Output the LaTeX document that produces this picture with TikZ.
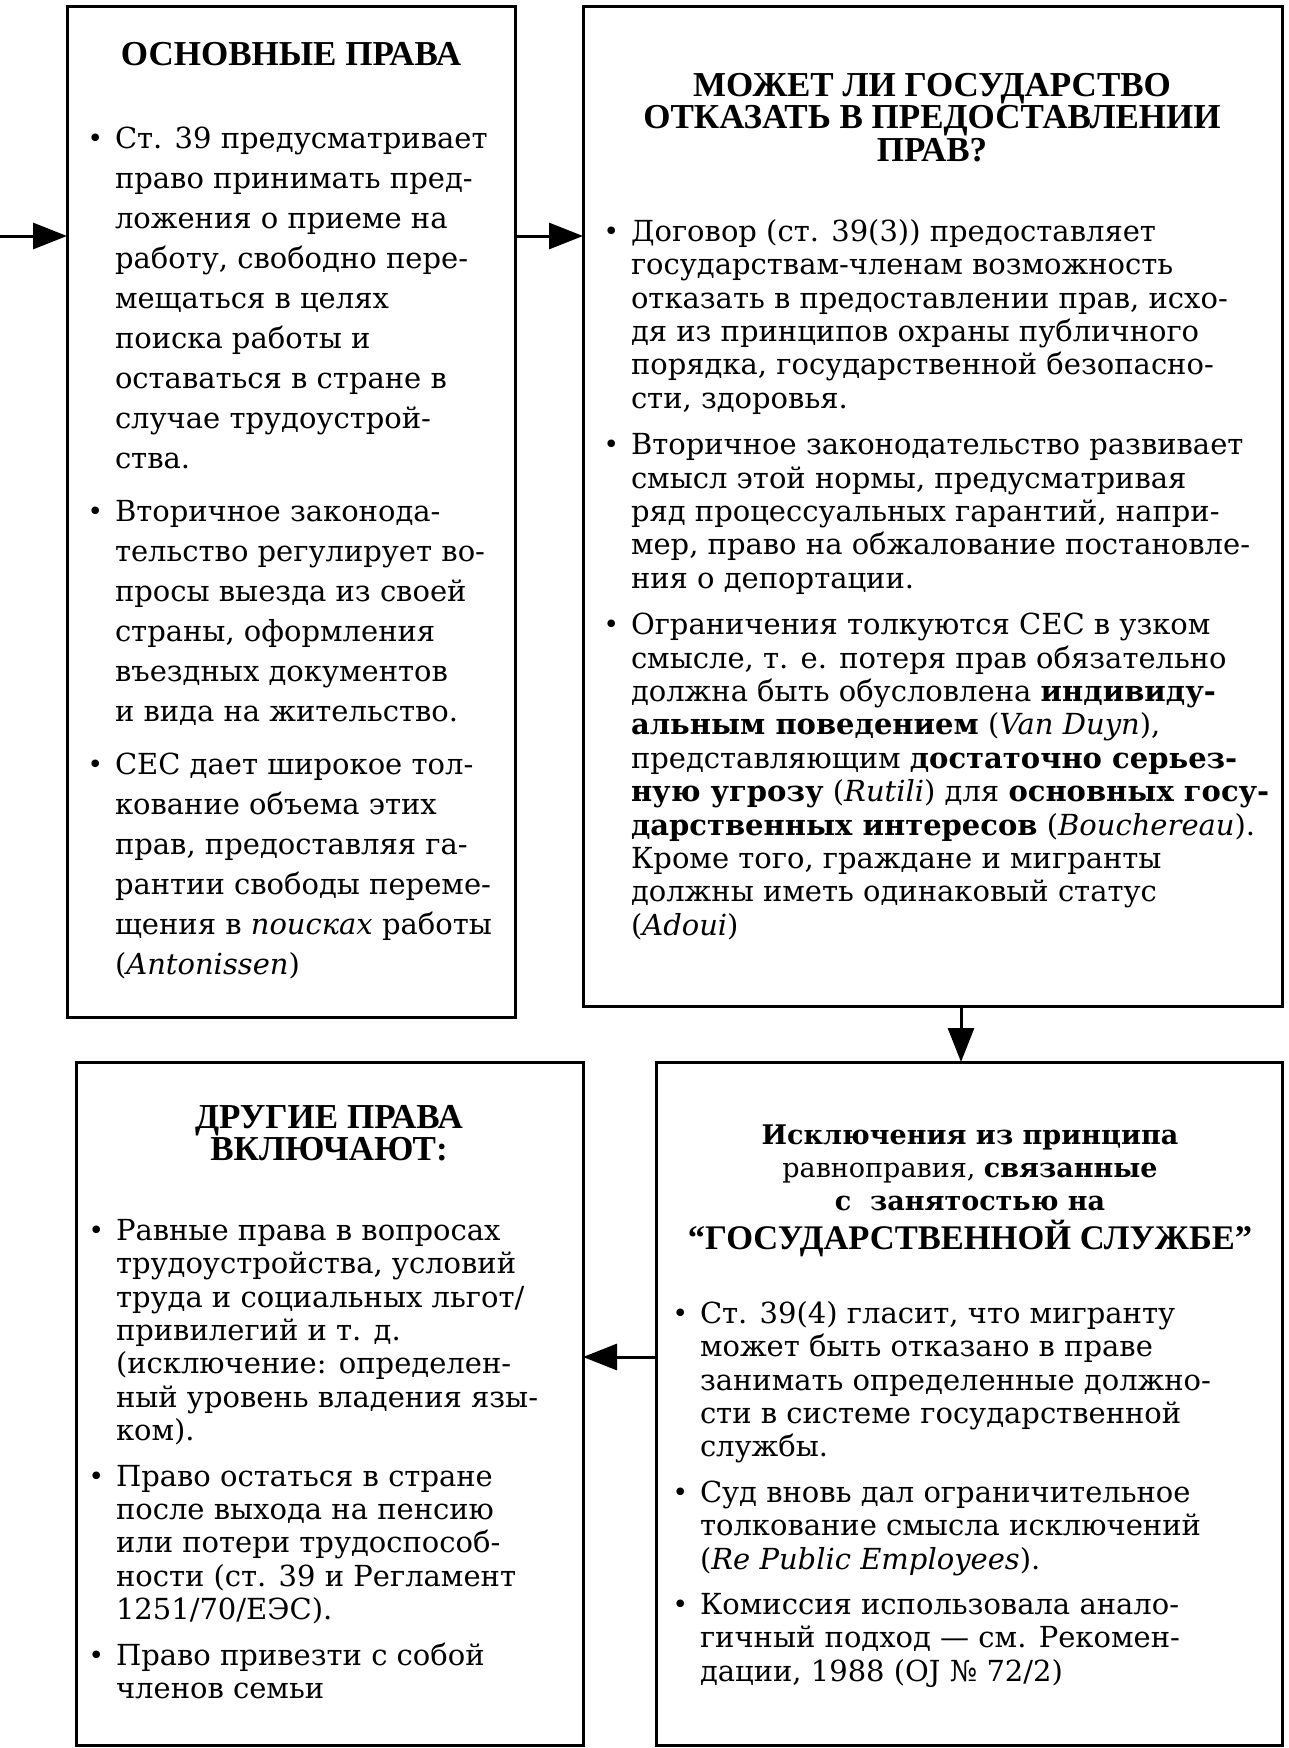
\documentclass[tikz,border=0pt]{standalone}
\usepackage{fontspec}
\setmainfont{DejaVu Serif}
\newfontfamily\ttlfont{Liberation Serif}
\usetikzlibrary{arrows.meta}
\newcommand\fntA{\fontsize{29}{40}\selectfont}
\newcommand\fntB{\fontsize{29}{33.4}\selectfont}
\newcommand\mybul{\llap{\raisebox{1pt}{\scalebox{0.9}{•}}\hspace{12pt}}}
\begin{document}
\begin{tikzpicture}[x=1pt,y=-1pt,
  box/.style={draw, line width=3pt, inner sep=0pt, outer sep=0pt, anchor=north west},
  txt/.style={inner sep=0pt, outer sep=0pt},
  ttl/.style={txt, font=\ttlfont\bfseries\fontsize{35}{32}\selectfont},
  arr/.style={line width=3pt, -{Triangle[length=34pt,width=26pt]}}]
\fill[white] (0,0) rectangle (1288,1748);
\useasboundingbox (0,0) rectangle (1288,1748);

% boxes
\node[box, minimum width=448pt, minimum height=1011pt] (b1) at (67,6) {};
\node[box, minimum width=699pt, minimum height=1000pt] (b2) at (583,6) {};
\node[box, minimum width=507pt, minimum height=683pt] (b3) at (76,1062) {};
\node[box, minimum width=626pt, minimum height=683pt] (b4) at (656,1062) {};

% titles
\node[ttl, anchor=base] (h1) at (291,65) {ОСНОВНЫЕ ПРАВА};
\node[ttl, anchor=north] (h2) at (932,73) {\begin{tabular}{@{}c@{}}МОЖЕТ ЛИ ГОСУДАРСТВО\\ОТКАЗАТЬ В ПРЕДОСТАВЛЕНИИ\\ПРАВ?\end{tabular}};
\node[ttl, anchor=north] (h3) at (329,1105) {\begin{tabular}{@{}c@{}}ДРУГИЕ ПРАВА\\ВКЛЮЧАЮТ:\end{tabular}};
\node[txt, anchor=north] (h4) at (970,1121) {\fontsize{27}{33}\selectfont\begin{tabular}{@{}c@{}}\textbf{Исключения из принципа}\\равноправия, \textbf{связанные}\\\textbf{с\ \ занятостью на}\\{\ttlfont\bfseries\fontsize{34.5}{33}\selectfont “ГОСУДАРСТВЕННОЙ СЛУЖБЕ”}\end{tabular}};

% bodies
\node[txt, anchor=north west] (t1) at (115,120) {\fntA\begin{tabular}{@{}l@{}}
\mybul Ст. 39 предусматривает\\
право принимать пред-\\
ложения о приеме на\\
работу, свободно пере-\\
мещаться в целях\\
поиска работы и\\
оставаться в стране в\\
случае трудоустрой-\\
ства.\\[13pt]
\mybul Вторичное законода-\\
тельство регулирует во-\\
просы выезда из своей\\
страны, оформления\\
въездных документов\\
и вида на жительство.\\[13pt]
\mybul СЕС дает широкое тол-\\
кование объема этих\\
прав, предоставляя га-\\
рантии свободы переме-\\
щения в \textit{поисках} работы\\
(\textit{Antonissen})
\end{tabular}};

\node[txt, anchor=north west] (t2) at (631,218) {\fntB\begin{tabular}{@{}l@{}}
\mybul Договор (ст. 39(3)) предоставляет\\
государствам-членам возможность\\
отказать в предоставлении прав, исхо-\\
дя из принципов охраны публичного\\
порядка, государственной безопасно-\\
сти, здоровья.\\[13pt]
\mybul Вторичное законодательство развивает\\
смысл этой нормы, предусматривая\\
ряд процессуальных гарантий, напри-\\
мер, право на обжалование постановле-\\
ния о депортации.\\[13pt]
\mybul Ограничения толкуются СЕС в узком\\
смысле, т. е. потеря прав обязательно\\
должна быть обусловлена \textbf{индивиду-}\\
\textbf{альным поведением} (\textit{Van Duyn}),\\
представляющим \textbf{достаточно серьез-}\\
\textbf{ную угрозу} (\textit{Rutili}) для \textbf{основных госу-}\\
\textbf{дарственных интересов} (\textit{Bouchereau}).\\
Кроме того, граждане и мигранты\\
должны иметь одинаковый статус\\
(\textit{Adoui})
\end{tabular}};

\node[txt, anchor=north west] (t3) at (116,1217) {\fntB\begin{tabular}{@{}l@{}}
\mybul Равные права в вопросах\\
трудоустройства, условий\\
труда и социальных льгот/\\
привилегий и т. д.\\
(исключение: определен-\\
ный уровень владения язы-\\
ком).\\[12pt]
\mybul Право остаться в стране\\
после выхода на пенсию\\
или потери трудоспособ-\\
ности (ст. 39 и Регламент\\
1251/70/ЕЭС).\\[12pt]
\mybul Право привезти с собой\\
членов семьи
\end{tabular}};

\node[txt, anchor=north west] (t4) at (700,1300) {\fntB\begin{tabular}{@{}l@{}}
\mybul Ст. 39(4) гласит, что мигранту\\
может быть отказано в праве\\
занимать определенные должно-\\
сти в системе государственной\\
службы.\\[12pt]
\mybul Суд вновь дал ограничительное\\
толкование смысла исключений\\
(\textit{Re Public Employees}).\\[12pt]
\mybul Комиссия использовала анало-\\
гичный подход — см. Рекомен-\\
дации, 1988 (OJ № 72/2)
\end{tabular}};

% connectors
\coordinate (src) at (0,236);
\coordinate (dn) at (961,0);
\coordinate (lf) at (0,1357);
\draw[arr] (src) -- (src -| b1.west);
\draw[arr] (src -| b1.east) -- (src -| b2.west);
\draw[arr] (dn |- b2.south) -- (dn |- b4.north);
\draw[arr] (lf -| b4.west) -- (lf -| b3.east);
\end{tikzpicture}
\end{document}
